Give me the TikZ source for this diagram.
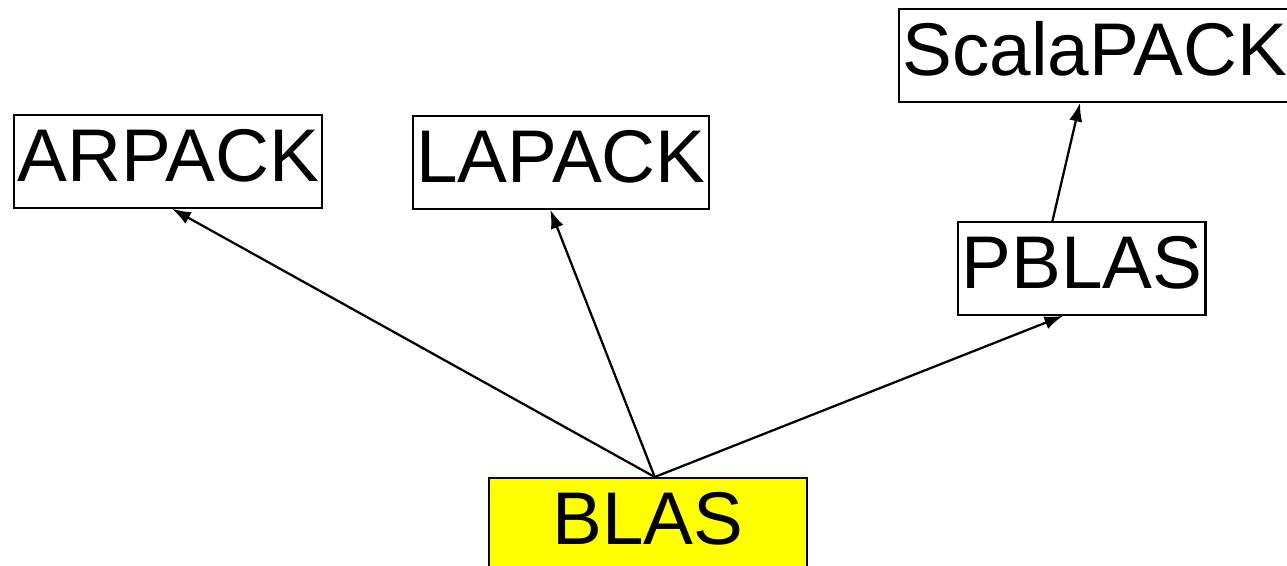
\documentclass[tikz,border=0pt]{standalone}
\usepackage{fontspec}
\setmainfont{Liberation Sans}
\usetikzlibrary{arrows.meta,positioning}
\definecolor{blasyellow}{RGB}{255,255,0}

\begin{document}
\begin{tikzpicture}[x=0.75pt,y=-0.75pt]
\tikzstyle{lib}=[rectangle,draw,line width=1.6pt,font=\fontsize{56}{60}\selectfont,inner xsep=2.5pt,inner ysep=0pt,text height=49.5pt,text depth=20pt,anchor=north west]
\tikzstyle{dep}=[-{Latex[length=14pt,width=10pt]},line width=1.7pt]

\useasboundingbox (0,0) rectangle (1287,566);

\node[lib] (ARPACK) at (13,114) {ARPACK};
\node[lib] (LAPACK) at (412,115) {LAPACK};
\node[lib] (ScaLAPACK) at (898,8) {ScalaPACK};
\node[lib] (PBLAS) at (957,221) {PBLAS};
\node[lib,fill=blasyellow,minimum width=238.5pt] (BLAS) at (488,477) {BLAS};

\draw[dep] ([xshift=5pt]BLAS.north) -- ([xshift=3pt]ARPACK.south);
\draw[dep] ([xshift=5pt]BLAS.north) -- ([xshift=-8pt]LAPACK.south);
\draw[dep] ([xshift=5pt]BLAS.north) -- ([xshift=-14pt]PBLAS.south);
\draw[dep] ([xshift=-22pt]PBLAS.north) -- ([xshift=-11pt]ScaLAPACK.south);
\end{tikzpicture}
\end{document}
